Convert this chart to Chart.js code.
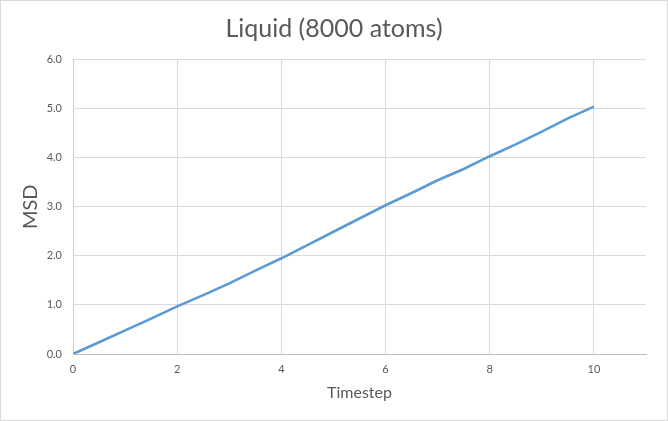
<!DOCTYPE html>
<html>
<head>
<meta charset="utf-8">
<script src="https://cdn.jsdelivr.net/npm/chart.js@4/dist/chart.umd.min.js"></script>
<style>
  html, body { margin: 0; padding: 0; background: #ffffff; }
  #wrap { width: 668px; height: 421px; position: relative; }
</style>
</head>
<body>
<div id="wrap"><canvas id="c" width="668" height="421"></canvas></div>
<script>
const chartTitle = "Liquid (8000 atoms)";
const xAxisTitle = "Timestep";
const yAxisTitle = "MSD";
const timesteps = [0, 0.5, 1, 1.5, 2, 2.5, 3, 3.5, 4, 4.5, 5, 5.5, 6, 6.5, 7, 7.5, 8, 8.5, 9, 9.5, 10];
const msd = [0, 0.24, 0.48, 0.72, 0.97, 1.20, 1.44, 1.70, 1.95, 2.22, 2.49, 2.76, 3.03, 3.28, 3.54, 3.77, 4.03, 4.27, 4.53, 4.80, 5.04];
const xTicks = [0, 2, 4, 6, 8, 10];
const yTicks = [0, 1, 2, 3, 4, 5, 6];

const textColor = '#595959';
const gridColor = '#d9d9d9';
const FONT = 'Lato, Carlito, Calibri, "Open Sans", sans-serif';

const borderPlugin = {
  id: 'outerBorder',
  beforeDraw(chart) {
    const ctx = chart.ctx;
    ctx.save();
    ctx.fillStyle = '#ffffff';
    ctx.fillRect(0, 0, chart.width, chart.height);
    ctx.strokeStyle = '#d9d9d9';
    ctx.lineWidth = 1;
    ctx.strokeRect(0.5, 0.5, chart.width - 1, chart.height - 1);
    ctx.restore();
  }
};

new Chart(document.getElementById('c'), {
  type: 'scatter',
  data: {
    datasets: [{
      data: timesteps.map((t, i) => ({ x: t, y: msd[i] })),
      showLine: true,
      borderColor: '#5B9BD5',
      backgroundColor: '#5B9BD5',
      borderWidth: 2.6,
      pointRadius: 0,
      tension: 0
    }]
  },
  options: {
    responsive: false,
    animation: false,
    devicePixelRatio: 1,
    layout: { padding: 0 },
    plugins: {
      legend: { display: false },
      tooltip: { enabled: false },
      title: {
        display: true,
        text: chartTitle,
        color: textColor,
        font: { family: FONT, size: 25, weight: 'normal' },
        padding: { top: 13.5, bottom: 16 }
      }
    },
    scales: {
      x: {
        type: 'linear',
        min: 0,
        max: 11,
        afterBuildTicks(scale) { scale.ticks = xTicks.map(v => ({ value: v })); },
        afterFit(scale) { scale.height = 67; },
        ticks: {
          color: textColor,
          font: { family: FONT, size: 11 },
          padding: 9,
          includeBounds: false,
          maxRotation: 0
        },
        grid: { color: gridColor, drawTicks: false, lineWidth: 1 },
        border: { color: '#bfbfbf', width: 1 },
        title: {
          display: true,
          text: xAxisTitle,
          color: textColor,
          font: { family: FONT, size: 16 },
          padding: { top: 0, bottom: 19 }
        }
      },
      y: {
        type: 'linear',
        position: 'left',
        min: 0,
        max: 6,
        afterBuildTicks(scale) { scale.ticks = yTicks.map(v => ({ value: v })); },
        afterFit(scale) { scale.width = 73; },
        ticks: {
          color: textColor,
          font: { family: FONT, size: 11 },
          padding: 11,
          callback: v => Number(v).toFixed(1)
        },
        grid: { color: gridColor, drawTicks: false, lineWidth: 1 },
        border: { color: '#d0d0d0', width: 1 },
        title: {
          display: true,
          text: yAxisTitle,
          color: textColor,
          font: { family: FONT, size: 20 },
          padding: { top: 18.5, bottom: 0 }
        }
      },
      yRight: {
        type: 'linear',
        position: 'right',
        min: 0,
        max: 6,
        afterFit(scale) { scale.width = 22; },
        ticks: { display: false },
        grid: { display: false, drawTicks: false },
        border: { display: false }
      }
    }
  },
  plugins: [borderPlugin]
});
</script>
</body>
</html>
